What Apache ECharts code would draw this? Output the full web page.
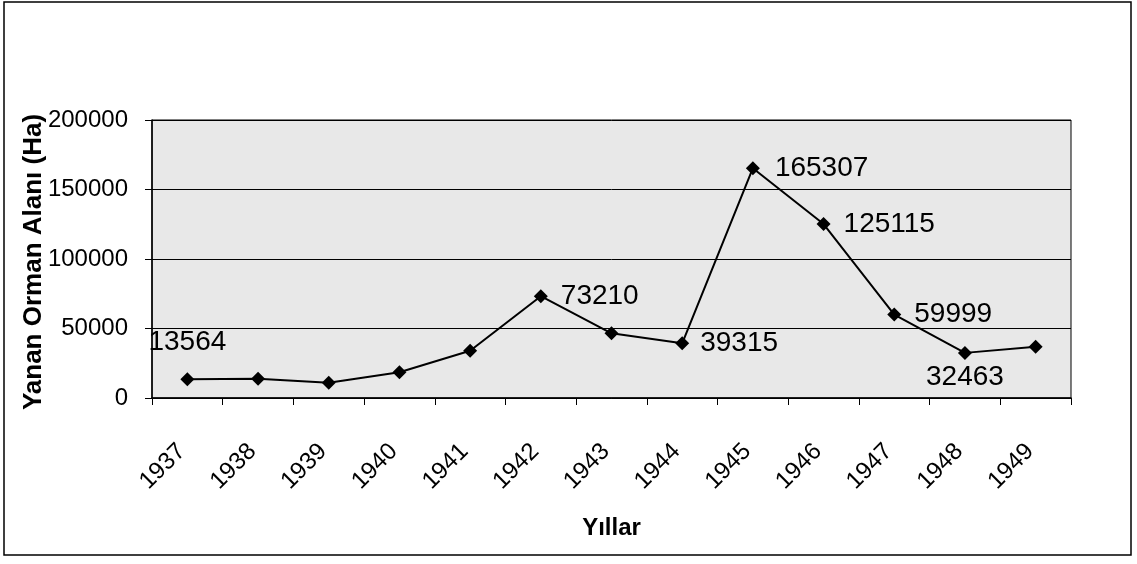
<!DOCTYPE html>
<html>
<head>
<meta charset="utf-8">
<script src="https://cdn.jsdelivr.net/npm/echarts@6/dist/echarts.min.js"></script>
<style>html,body{margin:0;padding:0;background:#fff}#c{width:1137px;height:564px}</style>
</head>
<body>
<div id="c"></div>
<script>
const categories = ['1937','1938','1939','1940','1941','1942','1943','1944','1945','1946','1947','1948','1949'];
const values = [13564, 13900, 11000, 18500, 34000, 73210, 46500, 39315, 165307, 125115, 59999, 32463, 36900];
const labelShown = [true, false, false, false, false, true, false, true, true, true, true, true, false];
const yTicks = [0, 50000, 100000, 150000, 200000];
const xTitle = 'Yıllar';
const yTitle = 'Yanan Orman Alanı (Ha)';

const labelPos = {0:['top',16],5:['right',13],7:['right',11],8:['right',15],9:['right',13],10:['right',13],11:['bottom',3]};
const data = values.map((v,i)=>{
  const item = {value: v};
  if (labelShown[i]) {
    const p = labelPos[i];
    item.label = {show:true, position:p[0], distance:p[1]};
  }
  return item;
});
const FONT = 'Liberation Sans, Arial, sans-serif';
const chart = echarts.init(document.getElementById('c'), null, {renderer:'canvas'});
chart.setOption({
  animation:false,
  backgroundColor:'#fff',
  graphic:[
    {type:'rect', shape:{x:4,y:2,width:1127,height:553}, style:{fill:null, stroke:'#000', lineWidth:1.5}, silent:true, z:-1},
    {type:'text', x:34, y:262, rotation:Math.PI/2, z:10,
     style:{text:yTitle, fontFamily:FONT, fontSize:26, fontWeight:'bold', fill:'#000', align:'center', verticalAlign:'middle'}}
  ],
  grid:{left:152, right:66, top:120, bottom:166, show:true, backgroundColor:'#e8e8e8', borderColor:'#000', borderWidth:1},
  xAxis:{
    type:'category', data:categories, boundaryGap:true,
    name:xTitle, nameLocation:'middle', nameGap:118,
    nameTextStyle:{fontFamily:FONT, fontSize:24, fontWeight:'bold', color:'#000'},
    axisLine:{show:true, lineStyle:{color:'#000', width:1.5}},
    axisTick:{show:true, inside:false, length:7, alignWithLabel:false, lineStyle:{color:'#000'}},
    axisLabel:{rotate:45, margin:44, padding:[0,8,0,0], fontFamily:FONT, fontSize:24, color:'#000', interval:0},
    splitLine:{show:false}
  },
  yAxis:{
    type:'value', min:yTicks[0], max:yTicks[yTicks.length-1], interval:50000,
    axisLine:{show:true, lineStyle:{color:'#000', width:1.5}},
    axisTick:{show:true, length:7, lineStyle:{color:'#000'}},
    axisLabel:{margin:24, fontFamily:FONT, fontSize:24, color:'#000', formatter:(v)=>String(v)},
    splitLine:{show:true, lineStyle:{color:'#000', width:1}}
  },
  series:[{
    type:'line', data:data, symbol:'diamond', symbolSize:14,
    lineStyle:{color:'#000', width:2},
    itemStyle:{color:'#000'},
    label:{show:false, fontFamily:FONT, fontSize:28, color:'#000'}
  }]
});
</script>
</body>
</html>
